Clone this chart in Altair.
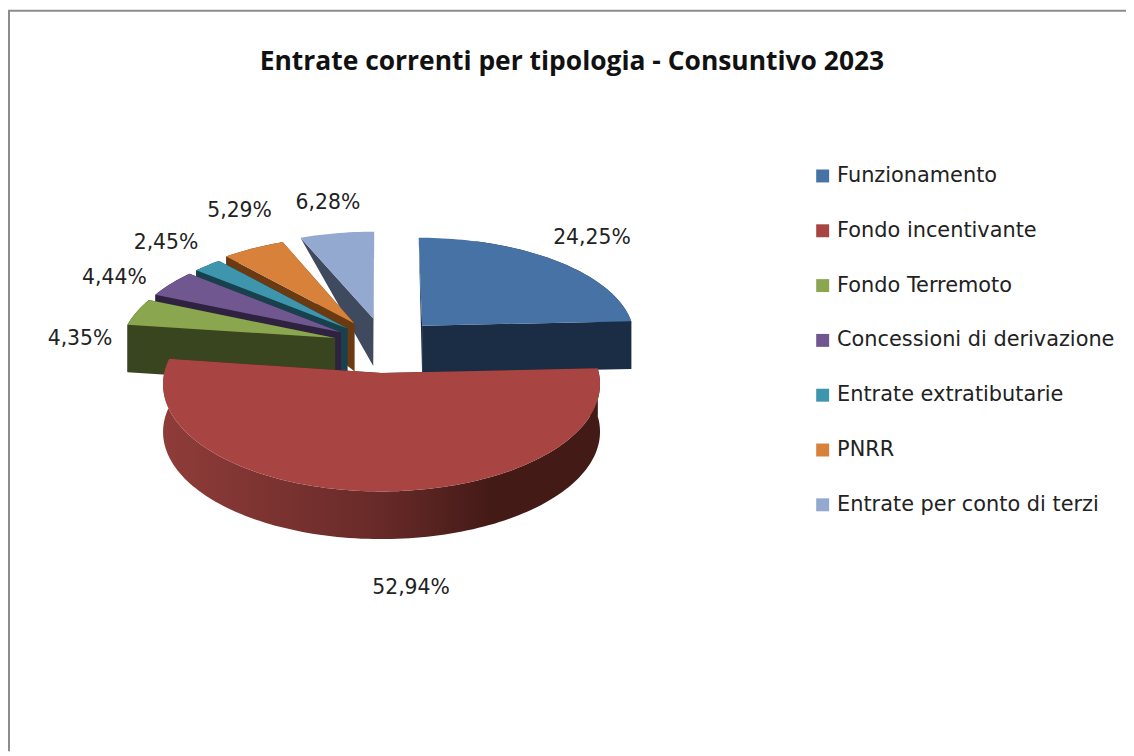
import math
import altair as alt

TITLE = "Entrate correnti per tipologia - Consuntivo 2023"
categories = ["Funzionamento", "Fondo incentivante", "Fondo Terremoto", "Concessioni di derivazione",
              "Entrate extratibutarie", "PNRR", "Entrate per conto di terzi"]
values = [24.25, 52.94, 4.35, 4.44, 2.45, 5.29, 6.28]
top_colors = ["#4672A6", "#A84542", "#8AA64F", "#71578F", "#3D96AE", "#D8813B", "#93A9CF"]
wall_colors = ["#1A2D45", "#441A17", "#39451E", "#2F2240", "#18404D", "#6A3A12", "#404A5F"]
draw_order = [6, 5, 4, 3, 2, 0, 1]
explode = [0.26, 0.28, 0.23, 0.23, 0.23, 0.25, 0.27]
width_factor = [1.0, 0.985, 1.0, 1.0, 1.0, 1.0, 1.0]
shift_x = [2, 2, 0, 0, 0, 0, 2]
label_nudge = [(29, 2), (45, -4), (-32, 39), (-38, 15), (-27, 4), (-6, -8), (-5, 1)]

# Layout of the tilted pie, in page pixels
OX, OY = 8, 8
CX, CY, SX, SY, PERSP = 385, 344, 216, 101, 0.10
DEPTH = 48


def project(u, v, k=1.0, dx=0.0):
    f = 1 / (1 - PERSP * v)
    return CX + dx + SX * k * u * f - OX, CY + SY * v * f - OY


def depth(v):
    return DEPTH * max(0.0, min(1.0, (v + 1.15) / 0.6))


def feature(ring, name=None, fill=None):
    ring = [[round(a, 2), round(b, 2)] for a, b in ring]
    ring.append(ring[0])
    return {"type": "Feature", "geometry": {"type": "Polygon", "coordinates": [ring]},
            "properties": {"name": name, "fill": fill}}


def slice_geometry(start, end, e, k, dx):
    mid = (start + end) / 2
    ou, ov = e * math.sin(mid), -e * math.cos(mid)
    n = max(6, int((end - start) * 40))
    rim = [(ou + math.sin(start + (end - start) * j / n), ov - math.cos(start + (end - start) * j / n))
           for j in range(n + 1)]
    top = [project(ou, ov, k, dx)] + [project(u, v, k, dx) for u, v in rim]

    def lower(u, v):
        x, y = project(u, v, k, dx)
        return x, y + depth(v)

    walls = []
    for u, v in (rim[0], rim[-1]):
        walls.append((min(v, ov), [project(ou, ov, k, dx), project(u, v, k, dx), lower(u, v), lower(ou, ov)]))
    walls.sort(key=lambda w: w[0])
    outer = [project(u, v, k, dx) for u, v in rim] + [lower(u, v) for u, v in reversed(rim)]
    return mid, top, [w[1] for w in walls], outer


color_scale = alt.Scale(domain=categories, range=top_colors)
legend = alt.Legend(title=None, orient="none", legendX=810, legendY=156, symbolType="square", symbolSize=170,
                    symbolStrokeWidth=0, labelFont="DejaVu Sans", labelFontSize=21, labelColor="#222222",
                    rowPadding=33.2, labelOffset=4, labelLimit=400, values=categories)

angles, acc = [], 0.0
total = sum(values)
for val in values:
    a0 = acc / total * 2 * math.pi
    acc += val
    angles.append((a0, acc / total * 2 * math.pi))

layers = []
for i in draw_order:
    mid, top, walls, outer = slice_geometry(*angles[i], explode[i], width_factor[i], shift_x[i])
    wall_feats = [feature(w, fill=wall_colors[i]) for w in walls]
    layers.append(alt.Chart(alt.Data(values=wall_feats)).mark_geoshape(strokeWidth=0, fill=wall_colors[i]))
    if categories[i] == "Fondo incentivante":
        grad = alt.Gradient(gradient="linear", x1=0, x2=1, y1=0, y2=0,
                            stops=[alt.GradientStop(color="#8F3C39", offset=0),
                                   alt.GradientStop(color="#672A28", offset=0.5),
                                   alt.GradientStop(color="#441A17", offset=0.75),
                                   alt.GradientStop(color="#441A17", offset=1)])
        layers.append(alt.Chart(alt.Data(values=[feature(outer)])).mark_geoshape(strokeWidth=0, fill=grad))
    else:
        layers.append(alt.Chart(alt.Data(values=[feature(outer)])).mark_geoshape(strokeWidth=0, fill=wall_colors[i]))
    layers.append(alt.Chart(alt.Data(values=[feature(top, name=categories[i])])).mark_geoshape(strokeWidth=0).encode(
        color=alt.Color("properties.name:N", scale=color_scale, legend=legend)))

label_rows = []
for i, val in enumerate(values):
    mid = sum(angles[i]) / 2
    u, v = 1.37 * math.sin(mid), -1.68 * math.cos(mid)
    x, y = project(u, v)
    if v > 0:
        y += 46
    label_rows.append({"lon": x + label_nudge[i][0], "lat": y + label_nudge[i][1],
                       "label": f"{val:.2f}%".replace(".", ",")})
labels = alt.Chart(alt.Data(values=label_rows)).mark_text(font="DejaVu Sans", fontSize=20.5, color="#222222").encode(
    longitude="lon:Q", latitude="lat:Q", text="label:N")

border_top = alt.Chart(alt.Data(values=[{"a": 0}])).mark_rule(color="#8C8C8C", strokeWidth=2).encode(
    x=alt.value(0), x2=alt.value(1126), y=alt.value(0))
border_left = alt.Chart(alt.Data(values=[{"a": 0}])).mark_rule(color="#8C8C8C", strokeWidth=2).encode(
    y=alt.value(0), y2=alt.value(746), x=alt.value(1))

chart = alt.layer(*layers, labels, border_top, border_left).properties(
    width=1126, height=746, padding=0, autosize=alt.AutoSizeParams(type="none"),
    projection=alt.Projection(type="identity", scale=1, translate=[0, 0]),
    title=alt.TitleParams(TITLE, anchor="middle", font="Open Sans", fontWeight="bold", fontSize=26.6,
                          color="#111111", dy=70, dx=5),
).configure_view(stroke=None)

chart.save("out.html", embed_options={"renderer": "svg", "actions": False})
